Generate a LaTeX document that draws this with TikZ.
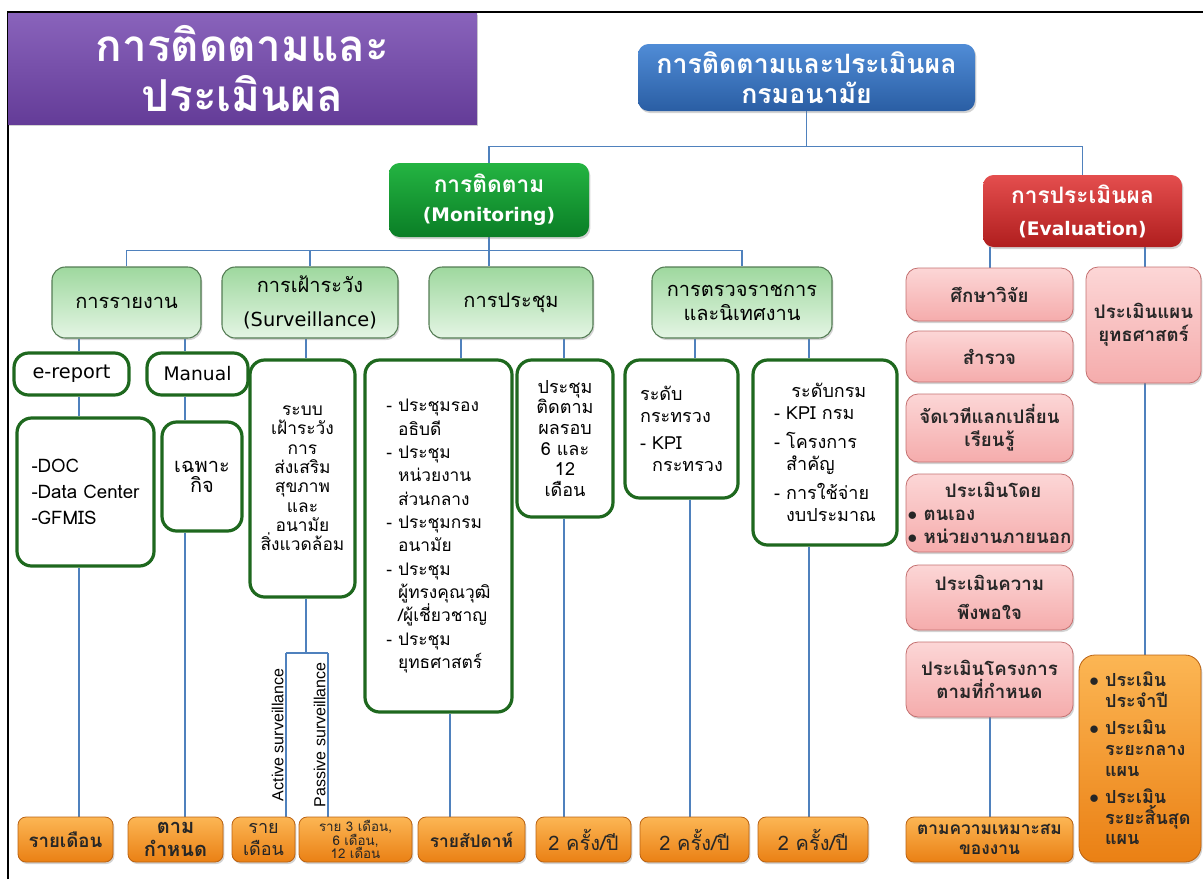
\documentclass[tikz,border=0pt]{standalone}
\usepackage{fontspec}
\setmainfont{Loma}[Script=Thai]
\newfontfamily\latinsans{Liberation Sans}
\newfontfamily\latinfont{DejaVu Sans}
\usetikzlibrary{shadows,backgrounds}

\definecolor{linkblue}{RGB}{79,129,189}
\definecolor{purtop}{RGB}{137,99,187}
\definecolor{purbot}{RGB}{100,60,152}
\definecolor{bluetop}{RGB}{80,140,214}
\definecolor{bluebot}{RGB}{42,94,164}
\definecolor{montop}{RGB}{36,180,66}
\definecolor{monbot}{RGB}{10,126,38}
\definecolor{evtop}{RGB}{228,78,78}
\definecolor{evbot}{RGB}{176,30,30}
\definecolor{subtop}{RGB}{158,216,158}
\definecolor{subbot}{RGB}{228,245,228}
\definecolor{subedge}{RGB}{84,124,84}
\definecolor{dgreen}{RGB}{30,104,30}
\definecolor{pinktop}{RGB}{252,214,214}
\definecolor{pinkbot}{RGB}{245,172,172}
\definecolor{pinkedge}{RGB}{196,112,112}
\definecolor{ortop}{RGB}{252,182,84}
\definecolor{orbot}{RGB}{234,128,20}
\definecolor{oredge}{RGB}{186,98,18}

\newcommand{\fs}[2]{\fontsize{#1}{#2}\selectfont}
\newcommand{\dsh}{\phantom{-\ }}
\newcommand{\bul}{\phantom{$\bullet$\ }}

\begin{document}
\begin{tikzpicture}[x=0.75pt, y=-0.75pt,
    every node/.style={inner sep=0pt, align=center},
    sz/.style 2 args={minimum width=#1*0.75pt, minimum height=#2*0.75pt},
    softshadow/.style={drop shadow={shadow xshift=1pt, shadow yshift=-1.5pt, opacity=0.35}},
    headbox/.style={rounded corners=8pt, text=white, softshadow},
    subbox/.style={rounded corners=10pt, draw=subedge, line width=0.8pt, top color=subtop, bottom color=subbot, softshadow},
    detail/.style={rounded corners=11pt, draw=dgreen, line width=2.4pt, fill=white},
    pinkbox/.style={rounded corners=9pt, draw=pinkedge, line width=0.6pt, top color=pinktop, bottom color=pinkbot, softshadow, text=black!85},
    orbox/.style={rounded corners=6pt, draw=oredge, line width=0.6pt, top color=ortop, bottom color=orbot, softshadow, text=black!85},
    link/.style={draw=linkblue, line width=0.8pt}]
  \useasboundingbox (0,0) rectangle (1203,879);
  \draw[line width=1pt] (8,879) -- (8,12) -- (1203,12);

  % title and root
  \node[sz={469}{111}, top color=purtop, bottom color=purbot, softshadow, text=white, font=\fs{33}{37}\bfseries] (title) at (242.5,68.5) {การติดตามและ\\ประเมินผล};
  \node[headbox, sz={337}{67}, top color=bluetop, bottom color=bluebot, font=\fs{20}{22}\bfseries] (top) at (806.5,77.5) {การติดตามและประเมินผล\\กรมอนามัย};
  \node[headbox, sz={200}{74}, top color=montop, bottom color=monbot, font=\fs{17}{22}\bfseries] (mon) at (489,200) {การติดตาม\\{\latinfont\fs{14}{22}(Monitoring)}};
  \node[headbox, sz={199}{72}, top color=evtop, bottom color=evbot, font=\fs{17}{24}\bfseries] (eval) at (1082.5,211) {การประเมินผล\\{\latinfont\fs{14}{24}(Evaluation)}};

  % monitoring branches
  \node[subbox, sz={149}{71}, font=\fs{15}{24}] (rep) at (126.5,302.5) {การรายงาน};
  \node[subbox, sz={176}{71}, font=\fs{15}{25}] (surv) at (310,302.5) {การเฝ้าระวัง\\{\latinfont\fs{14.5}{25}(Surveillance)}};
  \node[subbox, sz={164}{71}, font=\fs{15}{24}] (meet) at (511,302.5) {การประชุม};
  \node[subbox, sz={180}{71}, font=\fs{15}{18}] (insp) at (742,302.5) {การตรวจราชการ\\และนิเทศงาน};

  \node[detail, sz={115}{42}, font=\latinfont\fs{14.5}{18}] (ereport) at (71.5,374) {e-report};
  \node[detail, sz={101}{42}, font=\latinfont\fs{14}{18}] (manual) at (197.5,374) {Manual};
  \node[detail, sz={137}{148}, font=\fs{14}{19.5}, align=left] (doc) at (85.5,492) {-DOC\\-Data Center\\-GFMIS};
  \node[detail, sz={80}{109}, font=\fs{15}{15}] (adhoc) at (202,476.5) {เฉพาะ\\กิจ};
  \node[detail, sz={105}{237}, font=\fs{13}{14.5}] (survd) at (302.5,478.5) {ระบบ\\เฝ้าระวัง\\การ\\ส่งเสริม\\สุขภาพ\\และ\\อนามัย\\สิ่งแวดล้อม};
  \node[detail, sz={147}{352}, font=\fs{13}{17.5}, align=left] (meetl) at (438.5,536) {- ประชุมรอง\\\dsh อธิบดี\\- ประชุม\\\dsh หน่วยงาน\\\dsh ส่วนกลาง\\- ประชุมกรม\\\dsh อนามัย\\- ประชุม\\\dsh ผู้ทรงคุณวุฒิ\\\dsh /ผู้เชี่ยวชาญ\\- ประชุม\\\dsh ยุทธศาสตร์};
  \node[detail, sz={96}{157}, font=\fs{13.5}{15.5}] (meetf) at (565,438.5) {ประชุม\\ติดตาม\\ผลรอบ\\6 และ\\12\\เดือน};
  \node[detail, sz={113}{138}, font=\fs{13.5}{16.5}, align=left] (ministry) at (681.5,429) {ระดับ\\กระทรวง\\[4pt]- KPI\\\dsh กระทรวง};
  \node[detail, sz={144}{185}, font=\fs{13.5}{16.5}, align=left] (dept) at (825,452.5) {\hspace*{13pt}ระดับกรม\\- KPI กรม\\[5pt]- โครงการ\\\dsh สำคัญ\\[5pt]- การใช้จ่าย\\\dsh งบประมาณ};

  % evaluation branches
  \node[pinkbox, sz={167}{53}, font=\fs{14}{17}\bfseries] (p1) at (989.5,294.5) {ศึกษาวิจัย};
  \node[pinkbox, sz={167}{51}, font=\fs{14}{17}\bfseries] (p2) at (989.5,356.5) {สำรวจ};
  \node[pinkbox, sz={167}{68}, font=\fs{14}{17}\bfseries] (p3) at (989.5,428) {จัดเวทีแลกเปลี่ยน\\เรียนรู้};
  \node[pinkbox, sz={167}{78}, font=\fs{14}{17}\bfseries, align=left] (p4) at (989.5,513) {\hspace*{28pt}ประเมินโดย\\$\bullet$ ตนเอง\\$\bullet$ หน่วยงานภายนอก};
  \node[pinkbox, sz={167}{65}, font=\fs{14}{22}\bfseries] (p5) at (989.5,597.5) {ประเมินความ\\พึงพอใจ};
  \node[pinkbox, sz={167}{75}, font=\fs{14}{17}\bfseries] (p6) at (989.5,679.5) {ประเมินโครงการ\\ตามที่กำหนด};
  \node[pinkbox, sz={115}{116}, font=\fs{14}{17}\bfseries] (pplan) at (1143.5,325) {ประเมินแผน\\ยุทธศาสตร์};

  % frequency row
  \node[orbox, sz={95}{45}, font=\fs{14}{17}\bfseries] (o1) at (65.5,839.5) {รายเดือน};
  \node[orbox, sz={95}{45}, font=\fs{15}{17}\bfseries] (o2) at (175.5,839.5) {ตาม\\กำหนด};
  \node[orbox, sz={63}{45}, font=\fs{13.5}{16}] (o3) at (263.5,839.5) {ราย\\เดือน};
  \node[orbox, sz={113}{45}, font=\fs{10}{10}] (o4) at (355.5,839.5) {ราย 3 เดือน,\\6 เดือน,\\12 เดือน};
  \node[orbox, sz={107}{45}, font=\fs{13}{16}\bfseries] (o5) at (471.5,839.5) {รายสัปดาห์};
  \node[orbox, sz={95}{45}, font=\fs{15}{18}] (o6) at (583.5,839.5) {2 ครั้ง/ปี};
  \node[orbox, sz={109}{45}, font=\fs{15}{18}] (o7) at (694.5,839.5) {2 ครั้ง/ปี};
  \node[orbox, sz={110}{45}, font=\fs{15}{18}] (o8) at (813,839.5) {2 ครั้ง/ปี};
  \node[orbox, sz={167}{45}, font=\fs{13}{15}\bfseries] (o9) at (989.5,839.5) {ตามความเหมาะสม\\ของงาน};
  \node[orbox, rounded corners=12pt, sz={122}{207}, font=\fs{13.5}{15.5}\bfseries, align=left] (oplan) at (1140,758.5) {$\bullet$ ประเมิน\\\bul ประจำปี\\[5pt]$\bullet$ ประเมิน\\\bul ระยะกลาง\\\bul แผน\\[5pt]$\bullet$ ประเมิน\\\bul ระยะสิ้นสุด\\\bul แผน};

  % connector columns
  \coordinate (ca) at (79,0);
  \coordinate (cb) at (185,0);
  \coordinate (cs) at (306,0);
  \coordinate (cm) at (461,0);
  \coordinate (cn) at (450,0);
  \coordinate (cf) at (564,0);
  \coordinate (ck) at (695,0);
  \coordinate (cl) at (690,0);
  \coordinate (cd) at (809,0);
  \coordinate (ce) at (990,0);
  \coordinate (cp) at (1145,0);
  \coordinate (split) at (306,653);
  \coordinate (act) at (286,653);
  \coordinate (pas) at (328,653);

  \begin{scope}[on background layer]
    \draw[link] (top.south) -- ++(0,35) -| (mon.north);
    \draw[link] (top.south) -- ++(0,35) -| (eval.north);
    \draw[link] (mon.south) -- ++(0,13) -| (rep.north);
    \draw[link] (mon.south) -- ++(0,13) -| (surv.north);
    \draw[link] (mon.south) -- (mon.south |- meet.north);
    \draw[link] (mon.south) -- ++(0,13) -| (insp.north);

    \draw[link] (rep.south -| ca) -- (ereport.north -| ca);
    \draw[link] (ereport.south -| ca) -- (doc.north -| ca);
    \draw[link] (doc.south -| ca) -- (o1.north -| ca);
    \draw[link] (rep.south -| cb) -- (manual.north -| cb);
    \draw[link] (manual.south -| cb) -- (adhoc.north -| cb);
    \draw[link] (adhoc.south -| cb) -- (o2.north -| cb);

    \draw[link] (surv.south -| cs) -- (survd.north -| cs);
    \draw[link] (survd.south -| cs) -- (split);
    \draw[link] (act) -- (pas);
    \draw[link] (act) -- (act |- o3.north) node[midway, rotate=90, anchor=south, inner sep=1.5pt, font=\latinsans\fs{12}{13}] {Active surveillance};
    \draw[link] (pas) -- (pas |- o4.north) node[midway, rotate=90, anchor=south, inner sep=1.5pt, font=\latinsans\fs{12}{13}] {Passive surveillance};

    \draw[link] (meet.south -| cm) -- (meetl.north -| cm);
    \draw[link] (meetl.south -| cn) -- (o5.north -| cn);
    \draw[link] (meet.south -| cf) -- (meetf.north -| cf);
    \draw[link] (meetf.south -| cf) -- (o6.north -| cf);
    \draw[link] (insp.south -| ck) -- (ministry.north -| ck);
    \draw[link] (ministry.south -| cl) -- (o7.north -| cl);
    \draw[link] (insp.south -| cd) -- (dept.north -| cd);
    \draw[link] (dept.south -| cd) -- (o8.north -| cd);

    \draw[link] (eval.south -| ce) -- (p1.north -| ce);
    \draw[link] (p6.south -| ce) -- (o9.north -| ce);
    \draw[link] (eval.south -| cp) -- (pplan.north -| cp);
    \draw[link] (pplan.south -| cp) -- (oplan.north -| cp);
  \end{scope}
\end{tikzpicture}
\end{document}
